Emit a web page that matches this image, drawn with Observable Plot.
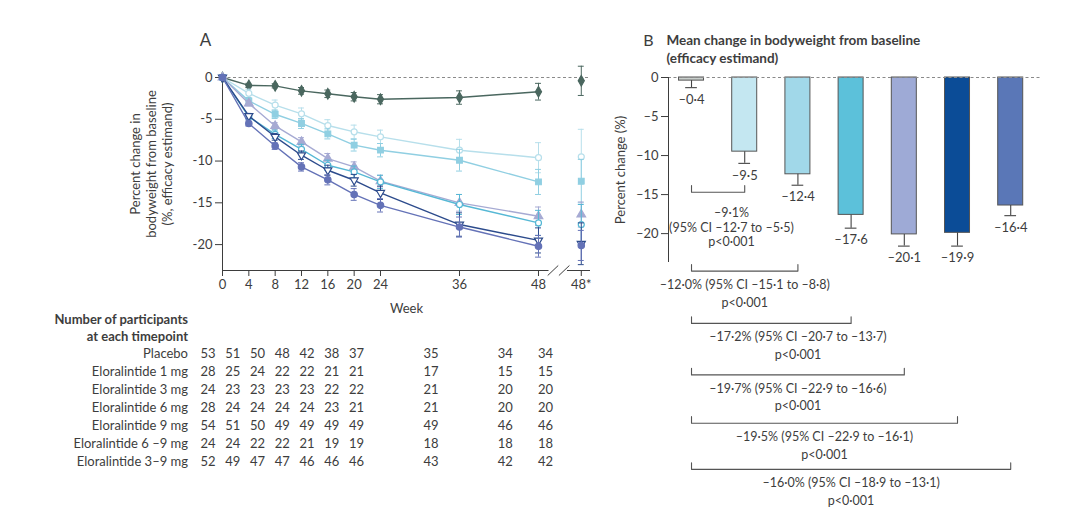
<!DOCTYPE html>
<html>
<head>
<meta charset="utf-8">
<script src="https://cdn.jsdelivr.net/npm/d3@7"></script>
<script src="https://cdn.jsdelivr.net/npm/@observablehq/plot@0.6"></script>
<style>
  body { margin: 0; background: #fff; }
  #root { position: relative; width: 1080px; height: 518px; overflow: hidden; background: #fff; }
  #root > div { position: absolute; }
  svg { overflow: visible; }
</style>
</head>
<body>
<div id="root">
  <div id="panelA" style="left:0;top:0"></div>
  <div id="counts" style="left:0;top:300px"></div>
  <div id="panelB" style="left:600px;top:0"></div>
</div>
<script>
// ---------- data ----------
const groups = [
  "Placebo",
  "Eloralintide 1 mg",
  "Eloralintide 3 mg",
  "Eloralintide 6 mg",
  "Eloralintide 9 mg",
  "Eloralintide 6 –9 mg",
  "Eloralintide 3–9 mg"
];
const weeks = [0, 4, 8, 12, 16, 20, 24, 36, 48];
const starLabel = "48*";

// mean % change at weeks 0..48, then the 48* estimate
const pctPlacebo = [0, -0.95, -1.0, -1.6, -1.95, -2.3, -2.6, -2.4, -1.7, -0.4];
const pct1mg     = [0, -1.9, -3.3, -4.35, -5.75, -6.5, -7.1, -8.7, -9.6, -9.5];
const pct3mg     = [0, -2.8, -4.4, -5.5, -6.75, -8.1, -8.7, -9.9, -12.5, -12.4];
const pct6mg     = [0, -4.7, -6.8, -8.6, -10.5, -11.3, -12.5, -15.2, -17.4, -17.6];
const pct9mg     = [0, -5.5, -8.2, -10.7, -12.25, -14.0, -15.3, -17.9, -20.2, -20.1];
const pct6to9mg  = [0, -4.6, -7.1, -9.3, -11.1, -12.3, -13.8, -17.6, -19.5, -19.9];
const pct3to9mg  = [0, -3.1, -5.8, -7.7, -9.7, -10.7, -12.4, -15.0, -16.6, -16.4];

// error bar half-widths
const errPlacebo = [0, 0.25, 0.25, 0.4, 0.45, 0.5, 0.55, 0.8, 1.0, 1.75];
const err1mg     = [0, 0.5, 0.6, 0.7, 0.7, 0.8, 0.8, 1.3, 1.8, 3.3];
const err3mg     = [0, 0.4, 0.5, 0.6, 0.6, 0.7, 0.8, 1.3, 1.5, 2.6];
const err6mg     = [0, 0.3, 0.5, 0.6, 0.6, 0.7, 0.8, 1.2, 1.5, 2.4];
const err9mg     = [0, 0.3, 0.4, 0.5, 0.6, 0.7, 0.8, 1.2, 1.3, 1.8];
const err6to9mg  = [0, 0.3, 0.4, 0.5, 0.6, 0.7, 0.8, 1.4, 1.5, 2.5];
const err3to9mg  = [0, 0.3, 0.4, 0.5, 0.6, 0.6, 0.7, 1.0, 1.1, 1.5];

// participants at each timepoint (weeks 0..48, then 48*)
const nPlacebo = [53, 51, 50, 48, 42, 38, 37, 35, 34, 34];
const n1mg     = [28, 25, 24, 22, 22, 21, 21, 17, 15, 15];
const n3mg     = [24, 23, 23, 23, 23, 22, 22, 21, 20, 20];
const n6mg     = [28, 24, 24, 24, 24, 23, 21, 21, 20, 20];
const n9mg     = [54, 51, 50, 49, 49, 49, 49, 49, 46, 46];
const n6to9mg  = [24, 24, 22, 22, 21, 19, 19, 18, 18, 18];
const n3to9mg  = [52, 49, 47, 47, 46, 46, 46, 43, 42, 42];

// panel B: mean change (efficacy estimand) and lower error limit
const barValues = [-0.4, -9.5, -12.4, -17.6, -20.1, -19.9, -16.4];
const barErrLow = [-1.3, -11.0, -13.8, -19.3, -21.6, -21.6, -17.7];

// treatment differences vs placebo
const diffEst  = [-9.1, -12.0, -17.2, -19.7, -19.5, -16.0];
const diffLow  = [-12.7, -15.1, -20.7, -22.9, -22.9, -18.9];
const diffHigh = [-5.5, -8.8, -13.7, -16.6, -16.1, -13.1];
const diffP    = ["p<0·001", "p<0·001", "p<0·001", "p<0·001", "p<0·001", "p<0·001"];

// ---------- styling / layout ----------
const FONT = "Lato, 'Open Sans', sans-serif";
const ink = "#3d3d3d";
const STAR_POS = 54.5;               // x position of the 48* column
const positions = [...weeks, STAR_POS];

const lineStyles = [
  {color: "#4a675f", symbol: "diamond", open: false, rotate: 0, r: 3.2},
  {color: "#b7dfeb", symbol: "circle", open: true, rotate: 0, r: 3.0},
  {color: "#90cfe2", symbol: "square", open: false, rotate: 0, r: 3.2},
  {color: "#56b8d5", symbol: "circle", open: true, rotate: 0, r: 3.0},
  {color: "#6472b7", symbol: "circle", open: false, rotate: 0, r: 3.2},
  {color: "#2c4b8c", symbol: "triangle", open: true, rotate: 180, r: 3.0},
  {color: "#a6aad3", symbol: "triangle", open: false, rotate: 0, r: 3.2}
];
const barColors = ["#c9cfcc", "#c4e7f1", "#a1d8e9", "#5cc1da", "#9eaad6", "#0b4c97", "#5a77b7"];
const drawOrder = [0, 1, 2, 6, 3, 5, 4];

const pctSeries = [pctPlacebo, pct1mg, pct3mg, pct6mg, pct9mg, pct6to9mg, pct3to9mg];
const errSeries = [errPlacebo, err1mg, err3mg, err6mg, err9mg, err6to9mg, err3to9mg];
const nSeries = [nPlacebo, n1mg, n3mg, n6mg, n9mg, n6to9mg, n3to9mg];

const fmtDot = v => (v < 0 ? "–" : "") + Math.abs(v).toFixed(1).replace(".", "·");

// ---------- panel A: percent change over time ----------
const marksA = [];
drawOrder.forEach(gi => {
  const s = lineStyles[gi];
  const rows = positions.map((x, j) => ({x, y: pctSeries[gi][j], e: errSeries[gi][j], star: j === weeks.length}));
  const withErr = rows.filter(d => d.e > 0);
  marksA.push(
    Plot.ruleX(withErr, {x: "x", y1: d => d.y - d.e, y2: d => d.y + d.e, stroke: s.color, strokeWidth: 1}),
    Plot.ruleY(withErr, {y: d => d.y - d.e, x1: d => d.x - 0.45, x2: d => d.x + 0.45, stroke: s.color, strokeWidth: 1}),
    Plot.ruleY(withErr, {y: d => d.y + d.e, x1: d => d.x - 0.45, x2: d => d.x + 0.45, stroke: s.color, strokeWidth: 1}),
    Plot.line(rows.filter(d => !d.star), {x: "x", y: "y", stroke: s.color, strokeWidth: 1.4}),
    Plot.dot(rows, {
      x: "x", y: "y", symbol: s.symbol, r: s.r,
      rotate: s.rotate, fill: s.open ? "white" : s.color, stroke: s.color, strokeWidth: 1.2
    })
  );
});

const yBottomA = -23.1;
const chartA = Plot.plot({
  width: 620, height: 300,
  marginLeft: 222, marginRight: 30, marginTop: 77, marginBottom: 30,
  style: {fontFamily: FONT, fontSize: "13px", color: ink, background: "transparent"},
  x: {domain: [0, 55.9]},
  y: {domain: [yBottomA, 0]},
  marks: [
    Plot.ruleY([0], {stroke: "#8a8a8a", strokeDasharray: "3,2.5"}),
    Plot.ruleX([0], {y1: yBottomA, y2: 0, stroke: ink}),
    Plot.ruleY([yBottomA], {x1: 0, x2: 49.6, stroke: ink}),
    Plot.ruleY([yBottomA], {x1: 52.4, x2: 55.9, stroke: ink}),
    Plot.link([50.2, 51.9], {x1: d => d - 0.8, x2: d => d + 0.8, y1: yBottomA - 0.6, y2: yBottomA + 0.6, stroke: ink}),
    Plot.axisY({ticks: [0, -5, -10, -15, -20], tickFormat: d => d === 0 ? "0" : "-" + Math.abs(d), tickSize: 7, stroke: ink, label: null}),
    Plot.axisX({ticks: positions, tickFormat: d => d === STAR_POS ? starLabel : String(d), tickSize: 6, stroke: ink, label: null}),
    Plot.text(["Week"], {frameAnchor: "bottom", lineAnchor: "middle", dy: 38, fontSize: 13}),
    Plot.text(["Percent change in\nbodyweight from baseline\n(%, efficacy estimand)"],
      {frameAnchor: "left", textAnchor: "middle", lineAnchor: "middle", rotate: -90, dx: -72, dy: -10, lineHeight: 1.23, fontSize: 13}),
    Plot.text(["A"], {frameAnchor: "top-left", textAnchor: "middle", lineAnchor: "middle", dx: -17, dy: -37, fontSize: 17}),
    ...marksA
  ]
});
document.getElementById("panelA").append(chartA);

// ---------- participant counts ----------
const countRows = groups.flatMap((g, gi) =>
  positions.map((x, j) => ({group: g, x, n: nSeries[gi][j]})));

const counts = Plot.plot({
  width: 620, height: 175,
  marginLeft: 207.5, marginRight: 75, marginTop: 53, marginBottom: 14,
  style: {fontFamily: FONT, fontSize: "13px", color: ink, background: "transparent"},
  x: {domain: [0, STAR_POS], range: [207.5, 545], axis: null},
  y: {type: "point", domain: groups, range: [53, 161], padding: 0, axis: null},
  marks: [
    Plot.text(countRows, {x: "x", y: "group", text: d => String(d.n), fontSize: 13}),
    Plot.text(groups, {y: d => d, frameAnchor: "left", textAnchor: "end", lineAnchor: "middle", dx: -20, fontSize: 13}),
    Plot.text(["Number of participants"], {frameAnchor: "top-left", textAnchor: "end", lineAnchor: "middle", dx: -20, dy: -34, fontSize: 13, fontWeight: "bold"}),
    Plot.text(["at each timepoint"], {frameAnchor: "top-left", textAnchor: "end", lineAnchor: "middle", dx: -20, dy: -17, fontSize: 13, fontWeight: "bold"})
  ]
});
document.getElementById("counts").append(counts);

// ---------- panel B: mean change at week 48 ----------
const bars = groups.map((g, i) => ({i, group: g, value: barValues[i], low: barErrLow[i], color: barColors[i]}));
const halfBar = 0.235;

// comparison brackets (layout levels in y units, below the bars)
const bracketLevels = [-14.7, -24.8, -31.5, -38.1, -44.3, -50.2];
const textShift = [0.25, 0, 0.5, 0, 0, 0];
const brackets = diffEst.map((d, k) => {
  const lines = k === 0
    ? [fmtDot(d) + "%", `(95% CI ${fmtDot(diffLow[k])} to ${fmtDot(diffHigh[k])})`, diffP[k]]
    : [`${fmtDot(d)}% (95% CI ${fmtDot(diffLow[k])} to ${fmtDot(diffHigh[k])})`, diffP[k]];
  return {k: k + 1, level: bracketLevels[k], lines, first: k === 0, shift: textShift[k]};
});
const bracketPts = brackets.flatMap(b => [
  {k: b.k, x: 0, y: b.level + 0.85},
  {k: b.k, x: 0, y: b.level},
  {k: b.k, x: b.k, y: b.level},
  {k: b.k, x: b.k, y: b.level + 0.85}
]);
// one text mark per line of each bracket annotation
const bracketTextMarks = brackets.flatMap(b => b.lines.map((t, j) =>
  Plot.text([{x: b.k / 2 + b.shift, y: b.level, t}], {
    x: "x", y: "y", text: "t", lineAnchor: "middle", fontSize: 12.5,
    dy: b.first ? 21 + j * 14.5 : 14 + j * 17.5
  })));

const xMinB = -0.4326;
const yBottomB = -23.7;
const chartB = Plot.plot({
  width: 480, height: 518,
  marginLeft: 68, marginRight: 40, marginTop: 77, marginBottom: 256,
  style: {fontFamily: FONT, fontSize: "13px", color: ink, background: "transparent"},
  x: {domain: [xMinB, 6.56], axis: null},
  y: {domain: [yBottomB, 0]},
  marks: [
    Plot.rect(bars, {x1: d => d.i - halfBar, x2: d => d.i + halfBar, y1: 0, y2: "value", fill: "color", stroke: "#555", strokeWidth: 1}),
    Plot.ruleY([0], {stroke: "#8a8a8a", strokeDasharray: "3,2.5"}),
    Plot.ruleX(bars, {x: "i", y1: "value", y2: "low", stroke: "#444", strokeWidth: 1.1}),
    Plot.ruleY(bars, {y: "low", x1: d => d.i - 0.11, x2: d => d.i + 0.11, stroke: "#444", strokeWidth: 1.1}),
    Plot.text(bars, {x: "i", y: "low", text: d => fmtDot(d.value), lineAnchor: "top", dy: 7, fontSize: 13}),
    Plot.ruleX([xMinB], {y1: yBottomB, y2: 0, stroke: ink}),
    Plot.axisY({ticks: [0, -5, -10, -15, -20], tickFormat: d => d === 0 ? "0" : "–" + Math.abs(d), tickSize: 7, stroke: ink, label: null}),
    Plot.text(["Percent change (%)"], {frameAnchor: "left", textAnchor: "middle", lineAnchor: "middle", rotate: -90, dx: -48, fontSize: 13}),
    Plot.text(["B"], {frameAnchor: "top-left", textAnchor: "middle", lineAnchor: "middle", dx: -20, dy: -37, fontSize: 16}),
    Plot.text(["Mean change in bodyweight from baseline"], {frameAnchor: "top-left", textAnchor: "start", lineAnchor: "middle", dx: -2, dy: -37, fontSize: 13.5, fontWeight: "bold"}),
    Plot.text(["(efficacy estimand)"], {frameAnchor: "top-left", textAnchor: "start", lineAnchor: "middle", dx: -2, dy: -19, fontSize: 13.5, fontWeight: "bold"}),
    Plot.line(bracketPts, {x: "x", y: "y", z: "k", stroke: "#555", strokeWidth: 1.1}),
    ...bracketTextMarks
  ]
});
document.getElementById("panelB").append(chartB);
</script>
</body>
</html>
